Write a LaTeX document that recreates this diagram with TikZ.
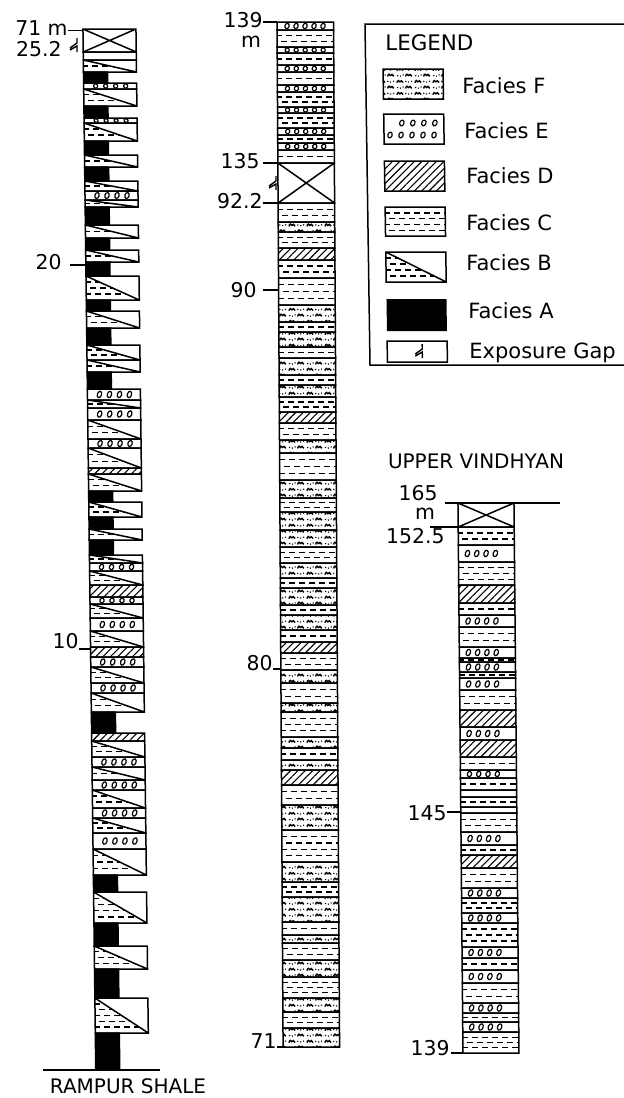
\documentclass[tikz,border=0pt]{standalone}
\usepackage{fontspec}
\setmainfont{DejaVu Sans}
\usetikzlibrary{patterns,patterns.meta}

% pebbly sandstone fill (facies F)
\pgfdeclarepatternformonly{pebbly}{\pgfpointorigin}{\pgfqpoint{9pt}{6pt}}{\pgfqpoint{9pt}{6pt}}{%
  \pgfsetlinewidth{0.75pt}%
  \pgfpathmoveto{\pgfqpoint{0.5pt}{3.8pt}}%
  \pgfpathcurveto{\pgfqpoint{0.8pt}{5.3pt}}{\pgfqpoint{1.7pt}{5.3pt}}{\pgfqpoint{2.0pt}{4.3pt}}%
  \pgfpathcurveto{\pgfqpoint{2.3pt}{5.1pt}}{\pgfqpoint{3.3pt}{5.1pt}}{\pgfqpoint{3.7pt}{3.9pt}}%
  \pgfpathmoveto{\pgfqpoint{5.0pt}{0.8pt}}%
  \pgfpathcurveto{\pgfqpoint{5.3pt}{2.3pt}}{\pgfqpoint{6.2pt}{2.3pt}}{\pgfqpoint{6.5pt}{1.3pt}}%
  \pgfpathcurveto{\pgfqpoint{6.8pt}{2.1pt}}{\pgfqpoint{7.8pt}{2.1pt}}{\pgfqpoint{8.2pt}{0.9pt}}%
  \pgfusepath{stroke}%
  \pgfpathcircle{\pgfqpoint{5.1pt}{4.5pt}}{0.4pt}%
  \pgfpathcircle{\pgfqpoint{6.6pt}{4.2pt}}{0.4pt}%
  \pgfpathcircle{\pgfqpoint{8.1pt}{4.6pt}}{0.4pt}%
  \pgfpathcircle{\pgfqpoint{0.9pt}{1.3pt}}{0.4pt}%
  \pgfpathcircle{\pgfqpoint{2.3pt}{1.0pt}}{0.4pt}%
  \pgfpathcircle{\pgfqpoint{3.7pt}{1.6pt}}{0.4pt}%
  \pgfusepath{fill}}

\tikzset{
  bedline/.style={line width=0.75pt},
  shaledash/.style={line width=0.7pt,dash pattern=on 3pt off 2pt},
  ovalline/.style={line width=0.6pt},
  hatchfill/.style={pattern={Lines[angle=45,distance=2.6pt,line width=0.55pt]}},
  tickline/.style={line width=0.7pt},
  gapline/.style={line width=0.7pt},
  depthlbl/.style={font=\fontsize{10.2}{12}\selectfont,inner sep=0pt,anchor=base east},
  legendlbl/.style={font=\fontsize{10.5}{12}\selectfont,inner sep=0pt,anchor=base west},
  titlelbl/.style={font=\fontsize{10}{12}\selectfont,inner sep=0pt}
}

% current column: left edge, width, width of facies A, ovals of facies E
\newcommand{\colx}{0}
\newcommand{\colw}{56}
\newcommand{\blackw}{24}
\newcommand{\ovn}{4}
\newcommand{\ovx}{10}
\newcommand{\ovd}{9.3}

\newcommand{\bedbox}[2]{(\colx,#1) rectangle (\colx+\colw,#2)}
\newcommand{\shalerows}[2]{%
  \pgfmathtruncatemacro\nrows{max(1,floor((#2-#1)/7))}%
  \foreach \k in {1,...,\nrows}{%
    \pgfmathsetmacro\yy{#1+(#2-#1)*\k/(\nrows+1)}%
    \pgfmathsetmacro\ph{mod(\k,2)*2.5}%
    \draw[shaledash,dash phase=\ph pt] (\colx-6,\yy) -- (\colx+\colw+6,\yy);}}
\newcommand{\bedA}[2]{\fill[draw,bedline] (\colx,#1) rectangle (\colx+\blackw,#2);}
\newcommand{\bedB}[2]{%
  \begin{scope}\clip (\colx,#1) -- (\colx,#2) -- (\colx+\colw,#2) -- cycle;\shalerows{#1}{#2}\end{scope}
  \draw[bedline] \bedbox{#1}{#2} (\colx,#1) -- (\colx+\colw,#2);}
\newcommand{\bedC}[2]{%
  \begin{scope}\clip \bedbox{#1}{#2};\shalerows{#1}{#2}\end{scope}
  \draw[bedline] \bedbox{#1}{#2};}
\newcommand{\bedD}[2]{\fill[hatchfill] \bedbox{#1}{#2}; \draw[bedline] \bedbox{#1}{#2};}
\newcommand{\bedE}[2]{%
  \draw[bedline] \bedbox{#1}{#2};
  \pgfmathsetmacro\ovry{min(3.3,0.34*(#2-#1))}%
  \foreach \i in {1,...,\ovn}
    \draw[ovalline] (\colx+\ovx+\ovd*\i-\ovd,{(#1+#2)/2}) ellipse [x radius=2.1,y radius=\ovry,rotate=-20];}
\newcommand{\bedF}[2]{\fill[pattern=pebbly] \bedbox{#1}{#2}; \draw[bedline] \bedbox{#1}{#2};}
\newcommand{\bedX}[2]{\draw[bedline] \bedbox{#1}{#2} (\colx,#1) -- (\colx+\colw,#2) (\colx,#2) -- (\colx+\colw,#1);}
\newcommand{\bedP}[2]{\draw[bedline] \bedbox{#1}{#2};}
\newcommand{\gapmark}[2]{\draw[gapline] (#1+3,#2-7) -- (#1+3,#2-2) -- (#1-4,#2+3) (#1-4,#2+5) -- (#1+3,#2+1) -- (#1+3,#2+7);}

\begin{document}
\begin{tikzpicture}[x=0.5pt,y=-0.5pt]
  \useasboundingbox (0,0) rectangle (624,1098);

  % legend
  \draw[bedline] (624,24) -- (365,24) -- (370,365) -- (624,365);
  \node[legendlbl,font=\fontsize{10.7}{12}\selectfont] (legend) at (385,50) {LEGEND};
  \begin{scope}[xslant=-0.015]
    \def\colx{382}\def\colw{60}
    \bedF{69}{99}
    \draw[bedline] \bedbox{114}{144};
    \foreach \xx in {400,411,422,433} \draw[ovalline] (\xx,123) ellipse [x radius=2.1,y radius=3,rotate=-20];
    \foreach \xx in {388,399,410,421,432} \draw[ovalline] (\xx,135) ellipse [x radius=2.1,y radius=3,rotate=-20];
    \bedD{161}{191}
    \bedC{207}{236}
    \bedB{252}{282}
    \fill (\colx,299) rectangle (\colx+\colw,331);
    \bedP{341}{362}
    \gapmark{414}{351}
  \end{scope}
  \node[legendlbl] (legF) at (462,93) {Facies F};
  \node[legendlbl] (legE) at (464,138) {Facies E};
  \node[legendlbl] (legD) at (466,183) {Facies D};
  \node[legendlbl] (legC) at (466,230) {Facies C};
  \node[legendlbl] (legB) at (466,270) {Facies B};
  \node[legendlbl] (legA) at (468,318) {Facies A};
  \node[legendlbl] (legG) at (469,358) {Exposure Gap};

  % Rampur Shale section
  \begin{scope}[xslant=-0.0123]
    \def\colx{82.6}\def\colw{53}\def\ovx{12}\def\ovd{10}
    \bedX{29}{52} \bedP{52}{60} \bedB{60}{72} \bedA{72}{83} \bedE{83}{89} \bedB{89}{106}
    \bedA{106}{118} \bedE{118}{123} \bedB{123}{141} \bedA{141}{155} \bedB{155}{167}
    \bedA{167}{181} \bedB{181}{191} \bedE{191}{200} \bedB{200}{207} \bedA{207}{225}
    \bedB{225}{238} \bedA{238}{250} \bedB{250}{262} \bedA{262}{276} \bedB{276}{300}
    \bedA{300}{311} \bedB{311}{328} \bedA{328}{345} \bedB{345}{360} \bedB{360}{372}
    \bedA{372}{389} \bedE{389}{400} \bedB{400}{408} \bedE{408}{420} \bedB{420}{439}
    \bedE{439}{448} \bedB{448}{468} \bedD{468}{474} \bedB{474}{491} \bedA{491}{502}
    \bedB{502}{517} \bedA{517}{529} \bedB{529}{540} \bedA{540}{555} \bedB{555}{563}
    \bedE{563}{571} \bedB{571}{585} \bedD{585}{597} \bedE{597}{604} \bedB{604}{618}
    \bedE{618}{631} \bedB{631}{647} \bedD{647}{657} \bedE{657}{667} \bedB{667}{683}
    \bedE{683}{693} \bedB{693}{712} \bedA{712}{733} \bedD{733}{741} \bedB{741}{757}
    \bedE{757}{767} \bedB{767}{780} \bedE{780}{790} \bedB{790}{808} \bedE{808}{818}
    \bedB{818}{833} \bedE{833}{849} \bedB{849}{875} \bedA{875}{892} \bedB{892}{923}
    \bedA{923}{946} \bedB{946}{969} \bedA{969}{998} \bedB{998}{1033} \bedA{1033}{1070}
  \end{scope}
  \draw[bedline] (43,1070) -- (160,1070);
  \node[titlelbl] (rampur) at (128,1086) {RAMPUR SHALE};
  \node[depthlbl] (d71m) at (68,35) {71 m};
  \draw[tickline] (68,30.5) -- (83,30.5);
  \node[depthlbl] (d252) at (62,56.5) {25.2};
  \gapmark{74}{45}
  \node[depthlbl] (d20) at (62,269) {20};
  \draw[tickline] (70,265) -- (86,265);
  \node[depthlbl] (d10) at (79,648) {10};
  \draw[tickline] (79,649) -- (91,649);

  % middle section
  \begin{scope}[xslant=-0.0059]
    \def\colx{276.9}\def\colw{56.5}\def\ovn{5}\def\ovx{10}\def\ovd{9}
    \bedE{22}{30} \bedC{30}{47} \bedE{47}{53} \bedC{53}{65} \bedE{65}{72} \bedC{72}{85}
    \bedE{85}{92} \bedC{92}{107} \bedE{107}{113} \bedC{113}{128} \bedE{128}{135}
    \bedC{135}{143} \bedE{143}{150} \bedC{150}{163}
    \bedX{163}{203}
    \bedC{203}{222} \bedF{222}{232} \bedC{232}{248} \bedD{248}{260} \bedC{260}{278}
    \bedC{278}{305} \bedF{305}{322} \bedC{322}{332} \bedF{332}{347} \bedC{347}{358}
    \bedF{358}{375} \bedC{375}{385} \bedF{385}{397} \bedC{397}{412} \bedD{412}{423}
    \bedC{423}{440} \bedF{440}{453} \bedC{453}{480} \bedF{480}{498} \bedC{498}{512}
    \bedF{512}{530} \bedF{530}{547} \bedC{547}{563} \bedF{563}{578} \bedC{578}{588}
    \bedF{588}{605} \bedC{605}{615} \bedF{615}{630} \bedC{630}{642} \bedD{642}{653}
    \bedC{653}{670} \bedF{670}{683} \bedC{683}{703} \bedF{703}{712} \bedC{712}{737}
    \bedF{737}{748} \bedC{748}{760} \bedF{760}{770} \bedD{770}{785} \bedC{785}{805}
    \bedF{805}{830} \bedC{830}{862} \bedF{862}{882} \bedC{882}{897} \bedF{897}{922}
    \bedC{922}{935} \bedF{935}{943} \bedC{943}{960} \bedF{960}{977} \bedC{977}{998}
    \bedF{998}{1012} \bedC{1012}{1028} \bedF{1028}{1047}
  \end{scope}
  \node[depthlbl] (d139a) at (263,27) {139};
  \node[depthlbl,anchor=base] (m139) at (251,47) {m};
  \draw[tickline] (263,22) -- (277,22);
  \node[depthlbl] (d135) at (260,168) {135};
  \draw[tickline] (263,163) -- (278,163);
  \gapmark{273}{183}
  \node[depthlbl] (d922) at (263,208) {92.2};
  \draw[tickline] (263,203) -- (278,203);
  \node[depthlbl] (d90) at (257,297) {90};
  \draw[tickline] (263,290) -- (279,290);
  \node[depthlbl] (d80) at (273,670) {80};
  \draw[tickline] (273,669) -- (281,669);
  \node[depthlbl] (d71) at (277,1048) {71};
  \draw[tickline] (277,1047) -- (283,1047);

  % Upper Vindhyan section
  \node[titlelbl] (vindhyan) at (476,461) {UPPER VINDHYAN};
  \begin{scope}[xslant=-0.0091]
    \def\colx{453.4}\def\colw{56}\def\ovx{9}\def\ovd{9.3}
    \bedX{503}{527} \bedC{527}{545} \bedE{545}{562} \bedC{562}{585} \bedD{585}{603}
    \bedC{603}{615} \bedE{615}{627} \bedC{627}{647} \bedE{647}{658} \bedC{658}{662}
    \bedE{662}{672} \bedC{672}{678} \bedE{678}{690} \bedC{690}{710} \bedD{710}{727}
    \bedE{727}{740} \bedD{740}{757} \bedC{757}{770} \bedE{770}{778} \bedC{778}{790}
    \bedP{790}{797} \bedC{797}{807} \bedP{807}{813} \bedC{813}{832} \bedE{832}{845}
    \bedC{845}{855} \bedD{855}{868} \bedC{868}{888} \bedE{888}{898} \bedC{898}{913}
    \bedE{913}{923} \bedC{923}{947} \bedE{947}{958} \bedC{958}{970} \bedE{970}{983}
    \bedC{983}{1003} \bedE{1003}{1013} \bedC{1013}{1022} \bedE{1022}{1032} \bedC{1032}{1053}
  \end{scope}
  \draw[tickline] (445,503) -- (560,503);
  \node[depthlbl] (d165) at (438,500) {165};
  \node[depthlbl,anchor=base] (m165) at (425,519) {m};
  \draw[tickline] (430,527) -- (458,527);
  \node[depthlbl] (d1525) at (445,543) {152.5};
  \node[depthlbl] (d145) at (447,820) {145};
  \draw[tickline] (447,812) -- (461,812);
  \node[depthlbl] (d139b) at (450,1055) {139};
  \draw[tickline] (451,1053) -- (463,1053);
\end{tikzpicture}
\end{document}
